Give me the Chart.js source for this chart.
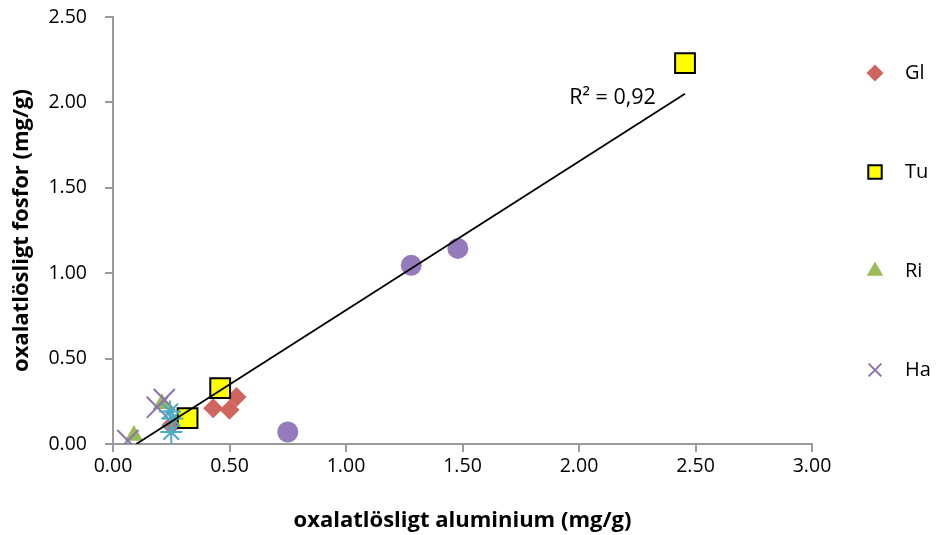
<!DOCTYPE html>
<html>
<head>
<meta charset="utf-8">
<script src="https://cdn.jsdelivr.net/npm/chart.js@4/dist/chart.umd.min.js"></script>
<style>
  body { margin: 0; background: #fff; }
  #wrap { width: 936px; height: 535px; }
</style>
</head>
<body>
<div id="wrap"><canvas id="ScatterCvs"></canvas></div>
<script>
// mätvärden per lokal (mg/g)
const glAl = [0.43, 0.50, 0.53, 0.25];
const glP  = [0.21, 0.20, 0.275, 0.11];
const tuAl = [2.455, 0.46, 0.32];
const tuP  = [2.23, 0.327, 0.152];
const riAl = [0.09, 0.21];
const riP  = [0.05, 0.235];
const haAl = [0.064, 0.19, 0.22];
const haP  = [0.02, 0.215, 0.26];
const s5Al = [0.245, 0.255, 0.25];
const s5P  = [0.19, 0.15, 0.07];
const s6Al = [1.28, 1.48, 0.75];
const s6P  = [1.046, 1.145, 0.07];

// linjär trendlinje över alla punkter
const trendAl = [0.10, 2.455];
const trendP  = [0.0, 2.05];
const r2Text = 'R² = 0,92';

const xTicks = [0, 0.5, 1, 1.5, 2, 2.5, 3];
const yTicks = [0, 0.5, 1, 1.5, 2, 2.5];

const FONT = "'Open Sans', sans-serif";
const AXIS_GREY = '#9a9a9a';

const pts = (xs, ys) => xs.map((x, i) => ({x: x, y: ys[i]}));

// egen förklaring till höger, bara de fyra första serierna (Gl överst)
const sideLegend = {
  id: 'sideLegend',
  afterDraw(chart) {
    const ctx = chart.ctx;
    const sets = chart.data.datasets.filter(d => d.inLegend).reverse();
    sets.forEach((ds, i) => {
      const y = 73 + i * 99;
      ctx.save();
      ctx.fillStyle = ds.backgroundColor;
      ctx.strokeStyle = ds.borderColor;
      ctx.lineWidth = ds.borderWidth;
      Chart.helpers.drawPoint(ctx, {
        pointStyle: ds.pointStyle,
        radius: ds.legendRadius,
        rotation: 0,
        borderWidth: ds.borderWidth
      }, 875, y);
      ctx.fillStyle = '#000';
      ctx.font = '20px ' + FONT;
      ctx.textAlign = 'left';
      ctx.textBaseline = 'middle';
      ctx.fillText(ds.label, 905, y);
      ctx.restore();
    });
  }
};

// R²-texten vid trendlinjens övre ände
const r2Label = {
  id: 'r2Label',
  afterDatasetsDraw(chart) {
    const {ctx, scales} = chart;
    ctx.save();
    ctx.fillStyle = '#000';
    ctx.font = '21.5px ' + FONT;
    ctx.textAlign = 'right';
    ctx.textBaseline = 'middle';
    ctx.fillText(r2Text, scales.x.getPixelForValue(2.33), scales.y.getPixelForValue(2.025));
    ctx.restore();
  }
};

const cvs = document.getElementById('ScatterCvs');
const ctx = cvs.getContext('2d');
const config = {
  type: 'scatter',
  data: {
    datasets: [
      {
        type: 'line', label: 'trend', data: pts(trendAl, trendP),
        borderColor: '#000', borderWidth: 1.8, pointRadius: 0, fill: false, order: 0
      },
      {
        label: 'Serie6', data: pts(s6Al, s6P), pointStyle: 'circle', pointRadius: 10.5,
        backgroundColor: '#957bbb', borderColor: '#957bbb', borderWidth: 0, order: 1
      },
      {
        label: 'Serie5', data: pts(s5Al, s5P), pointStyle: 'star', pointRadius: 11,
        backgroundColor: '#4bacc6', borderColor: '#4bacc6', borderWidth: 2, order: 2
      },
      {
        label: 'Ha', data: pts(haAl, haP), pointStyle: 'crossRot', pointRadius: 15,
        backgroundColor: '#8c73ad', borderColor: '#8c73ad', borderWidth: 2, order: 3,
        inLegend: true, legendRadius: 9
      },
      {
        label: 'Ri', data: pts(riAl, riP), pointStyle: 'triangle', pointRadius: 10.5,
        backgroundColor: '#9bbb59', borderColor: '#9bbb59', borderWidth: 0, order: 4,
        inLegend: true, legendRadius: 9.5
      },
      {
        label: 'Tu', data: pts(tuAl, tuP), pointStyle: 'rect', pointRadius: 14,
        backgroundColor: '#ffff00', borderColor: '#000', borderWidth: 2, order: 5,
        inLegend: true, legendRadius: 9.5
      },
      {
        label: 'Gl', data: pts(glAl, glP), pointStyle: 'rectRot', pointRadius: 10,
        backgroundColor: '#d0655e', borderColor: '#d0655e', borderWidth: 0, order: 6,
        inLegend: true, legendRadius: 8.5
      }
    ]
  },
  options: {
    responsive: true,
    maintainAspectRatio: false,
    animation: false,
    layout: { padding: { left: 0, right: 124, top: 16, bottom: 0 } },
    plugins: {
      legend: { display: false },
      tooltip: { enabled: false }
    },
    scales: {
      x: {
        type: 'linear', min: 0, max: 3,
        afterBuildTicks: s => { s.ticks = xTicks.map(v => ({value: v})); },
        afterFit: s => { s.height = 91; },
        ticks: {
          color: '#000', font: { family: FONT, size: 19.5 }, padding: 3,
          callback: v => v.toFixed(2)
        },
        grid: { drawOnChartArea: false, drawTicks: true, tickLength: 8, color: AXIS_GREY, lineWidth: 2 },
        border: { color: AXIS_GREY, width: 2 },
        title: {
          display: true, text: 'oxalatlösligt aluminium (mg/g)', color: '#000',
          font: { family: FONT, size: 22, weight: 'bold' }, padding: { top: 0, bottom: 1 }
        }
      },
      y: {
        type: 'linear', min: 0, max: 2.5,
        afterBuildTicks: s => { s.ticks = yTicks.map(v => ({value: v})); },
        // fast bredd och ingen extra luft ovanför översta etiketten
        afterFit: s => { s.width = 113; s.paddingTop = 0; s.paddingBottom = 0; },
        ticks: {
          color: '#000', font: { family: FONT, size: 19.5 }, padding: 18,
          callback: v => v.toFixed(2)
        },
        grid: { drawOnChartArea: false, drawTicks: true, tickLength: 8, color: AXIS_GREY, lineWidth: 2 },
        border: { color: AXIS_GREY, width: 2 },
        title: {
          display: true, text: 'oxalatlösligt fosfor (mg/g)', color: '#000',
          font: { family: FONT, size: 22, weight: 'bold' }, padding: { top: 9, bottom: 0 }
        }
      }
    }
  },
  plugins: [sideLegend, r2Label]
};
const scatterChart = new Chart(ctx, config);
</script>
</body>
</html>
